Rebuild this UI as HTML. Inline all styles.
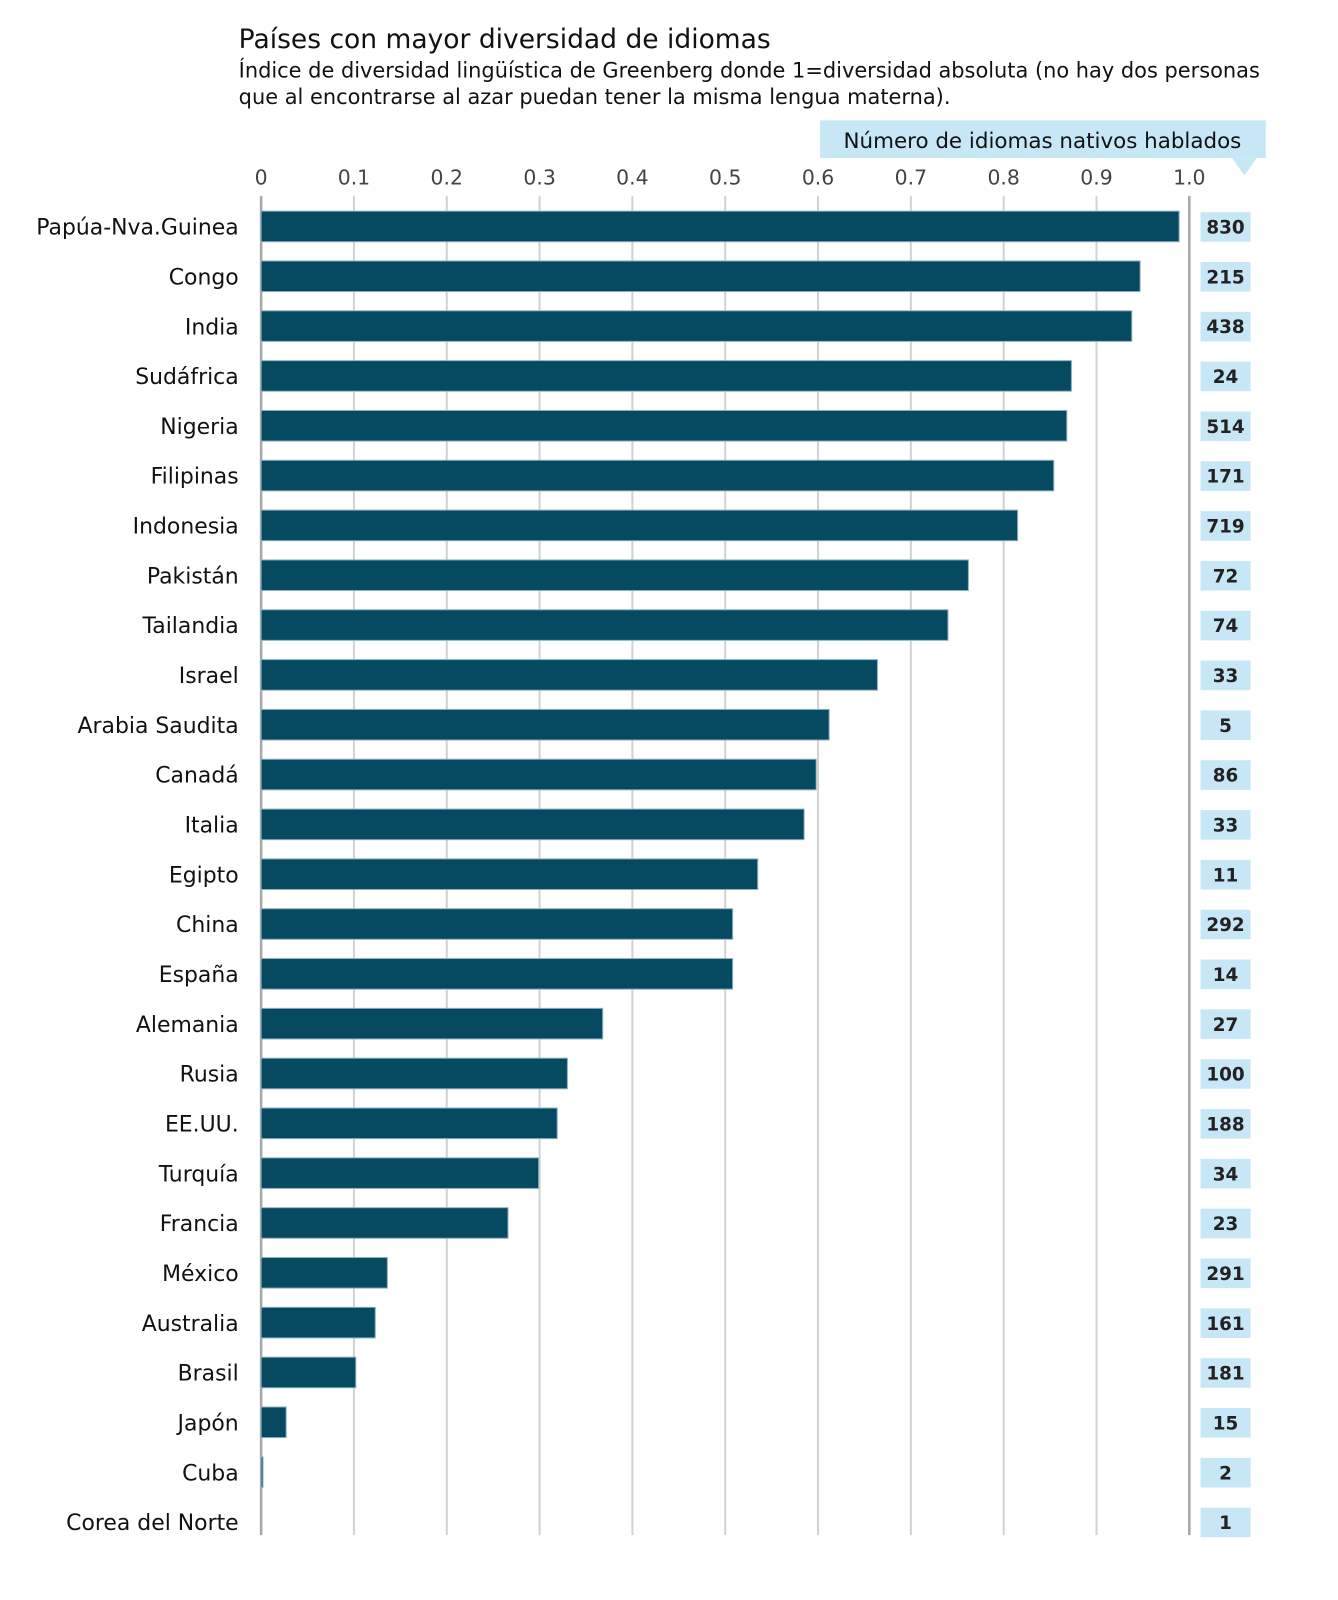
<!DOCTYPE html>
<html><head><meta charset="utf-8"><style>
body{margin:0;background:#fff;}
svg{display:block;font-family:"DejaVu Sans","Liberation Sans",sans-serif;}
</style></head><body>
<svg id="chart" width="1338" height="1600" viewBox="0 0 1338 1600">
<g transform="scale(1.02)">
<text x="234" y="47" font-size="26" fill="#111">Países con mayor diversidad de idiomas</text>
<text x="234" y="76" font-size="20.5" fill="#111">Índice de diversidad lingüística de Greenberg donde 1=diversidad absoluta (no hay dos personas</text>
<text x="234" y="102" font-size="20.5" fill="#111">que al encontrarse al azar puedan tener la misma lengua materna).</text>
<g>
<rect x="804" y="118" width="437" height="37" fill="#c7e7f6"/>
<polygon points="1208,155 1232,155 1220,172" fill="#c7e7f6"/>
<text x="1022" y="145" font-size="21" fill="#111" text-anchor="middle">Número de idiomas nativos hablados</text>
</g>
<g id="grid"></g>
<g id="ticks"></g>
<g id="bars"></g>
<g id="labels"></g>
<g id="counts"></g>
</g>
</svg>
<script>
const countries=["Papúa-Nva.Guinea","Congo","India","Sudáfrica","Nigeria","Filipinas","Indonesia","Pakistán","Tailandia","Israel","Arabia Saudita","Canadá","Italia","Egipto","China","España","Alemania","Rusia","EE.UU.","Turquía","Francia","México","Australia","Brasil","Japón","Cuba","Corea del Norte"];
const diversity=[0.989,0.947,0.938,0.873,0.868,0.854,0.815,0.762,0.740,0.664,0.612,0.598,0.585,0.535,0.508,0.508,0.368,0.330,0.319,0.299,0.266,0.136,0.123,0.102,0.027,0.002,0];
const languages=[830,215,438,24,514,171,719,72,74,33,5,86,33,11,292,14,27,100,188,34,23,291,161,181,15,2,1];
const tickValues=[0,0.1,0.2,0.3,0.4,0.5,0.6,0.7,0.8,0.9,1.0];
const tickLabels=["0","0.1","0.2","0.3","0.4","0.5","0.6","0.7","0.8","0.9","1.0"];
const NS="http://www.w3.org/2000/svg";
const x0=256,xw=910,y0=222,rowH=48.85,barH=30;
const xs=v=>x0+v*xw, ys=i=>y0+i*rowH;
function mk(tag,attrs,parent){const e=document.createElementNS(NS,tag);for(const k in attrs)e.setAttribute(k,attrs[k]);parent.appendChild(e);return e;}
const grid=document.getElementById('grid'),ticks=document.getElementById('ticks'),bars=document.getElementById('bars'),labels=document.getElementById('labels'),counts=document.getElementById('counts');
tickValues.forEach((v,i)=>{
 const last=i===tickValues.length-1;
 const l=mk('line',{x1:xs(v),x2:xs(v),y1:192,y2:1505,stroke:(i===0||last)?'#a8a8a8':'#d2d2d2','stroke-width':(i===0||last)?2.5:2},grid);
 
 
 const t=mk('text',{x:xs(v),y:181,'font-size':20,fill:'#444','text-anchor':'middle'},ticks);
 t.textContent=tickLabels[i];
 
 
});
countries.forEach((c,i)=>{
 const y=ys(i);
 const r=mk('rect',{x:x0,y:y-barH/2,width:Math.max(0,xs(diversity[i])-x0),height:barH,fill:'#064a62',stroke:'#8fb0bf','stroke-width':1},bars);
 
 
 const t=mk('text',{x:234,y:y+8,'font-size':21.5,fill:'#111','text-anchor':'end'},labels);
 t.textContent=c;
 
 
 const b=mk('rect',{x:1177,y:y-14,width:49,height:29,fill:'#c7e7f6'},counts);
 
 
 const n=mk('text',{x:1201.5,y:y+7,'font-size':18,fill:'#222','text-anchor':'middle','font-weight':'bold'},counts);
 n.textContent=languages[i];
 
 
});
</script>
</body></html>
